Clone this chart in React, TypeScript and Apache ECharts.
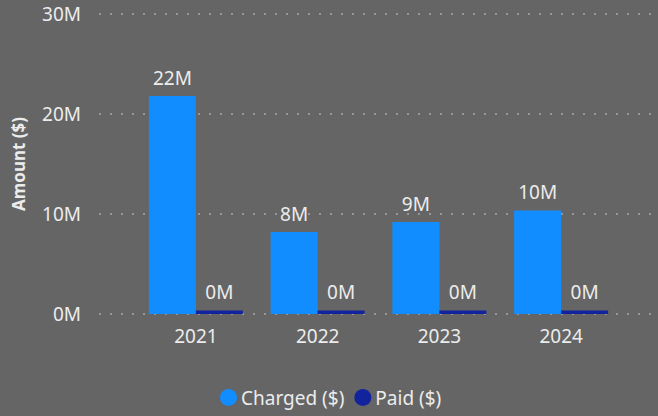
import React, { useEffect, useRef } from "react";
import * as echarts from "echarts";

const years = ["2021", "2022", "2023", "2024"];
const charged = [21.8e6, 8.2e6, 9.2e6, 10.35e6];
const paid = [0.35e6, 0.35e6, 0.35e6, 0.35e6];
const yTicks = [0, 10e6, 20e6, 30e6];

const FONT = "'Noto Sans', 'Open Sans', sans-serif";
const TXT = "#ececec";

export default function App() {
  const ref = useRef<HTMLDivElement>(null);
  useEffect(() => {
    const chart = echarts.init(ref.current!, null, { renderer: "svg" });
    const fmt = (v: number) => Math.round(v / 1e6) + "M";
    const label = {
      show: true,
      position: "top" as const,
      distance: 9,
      color: TXT,
      fontSize: 19,
      fontFamily: FONT,
      formatter: (p: any) => fmt(p.value),
    };
    chart.setOption({
      animation: false,
      backgroundColor: "#656565",
      textStyle: { fontFamily: FONT },
      grid: [
        { left: 99, right: 0, top: 14, bottom: 102 },
        { left: 135, right: 36, top: 14, bottom: 102 },
      ],
      legend: {
        bottom: 4,
        left: 215,
        icon: "circle",
        itemWidth: 17,
        itemHeight: 17,
        itemGap: 10,
        textStyle: { color: TXT, fontSize: 19, fontFamily: FONT, padding: [0, 0, 0, -1] },
        data: ["Charged ($)", "Paid ($)"],
      },
      xAxis: [
        { type: "value", gridIndex: 0, show: false, min: 0, max: 1 },
        {
          type: "category",
          gridIndex: 1,
          data: years,
          axisLine: { show: false },
          axisTick: { show: false },
          axisLabel: { color: TXT, fontSize: 19, fontFamily: FONT, margin: 12 },
        },
      ],
      yAxis: [
        {
          type: "value",
          gridIndex: 0,
          min: 0,
          max: 30e6,
          interval: 10e6,
          name: "Amount ($)",
          nameLocation: "middle",
          nameGap: 72,
          nameTextStyle: { color: TXT, fontSize: 17, fontWeight: "bold", fontFamily: FONT },
          axisLine: { show: false },
          axisTick: { show: false },
          axisLabel: {
            color: TXT,
            fontSize: 19,
            fontFamily: FONT,
            margin: 18,
            formatter: (v: number) => (yTicks.includes(v) ? fmt(v) : ""),
          },
          splitLine: { lineStyle: { color: "#a8a8a8", type: [2, 9], width: 1.5 } },
        },
        {
          type: "value",
          gridIndex: 1,
          min: 0,
          max: 30e6,
          interval: 10e6,
          show: false,
          splitLine: { show: false },
        },
      ],
      series: [
        {
          name: "Charged ($)",
          type: "bar",
          xAxisIndex: 1,
          yAxisIndex: 1,
          data: charged,
          barWidth: 47,
          barGap: "0%",
          itemStyle: { color: "#118DFF" },
          label,
        },
        {
          name: "Paid ($)",
          type: "bar",
          xAxisIndex: 1,
          yAxisIndex: 1,
          data: paid,
          barWidth: 47,
          barGap: "0%",
          itemStyle: { color: "#12239E" },
          label,
        },
      ],
    });
    return () => chart.dispose();
  }, []);
  return (
    <div
      ref={ref}
      style={{ position: "fixed", left: 0, top: 0, width: 658, height: 416 }}
    />
  );
}
